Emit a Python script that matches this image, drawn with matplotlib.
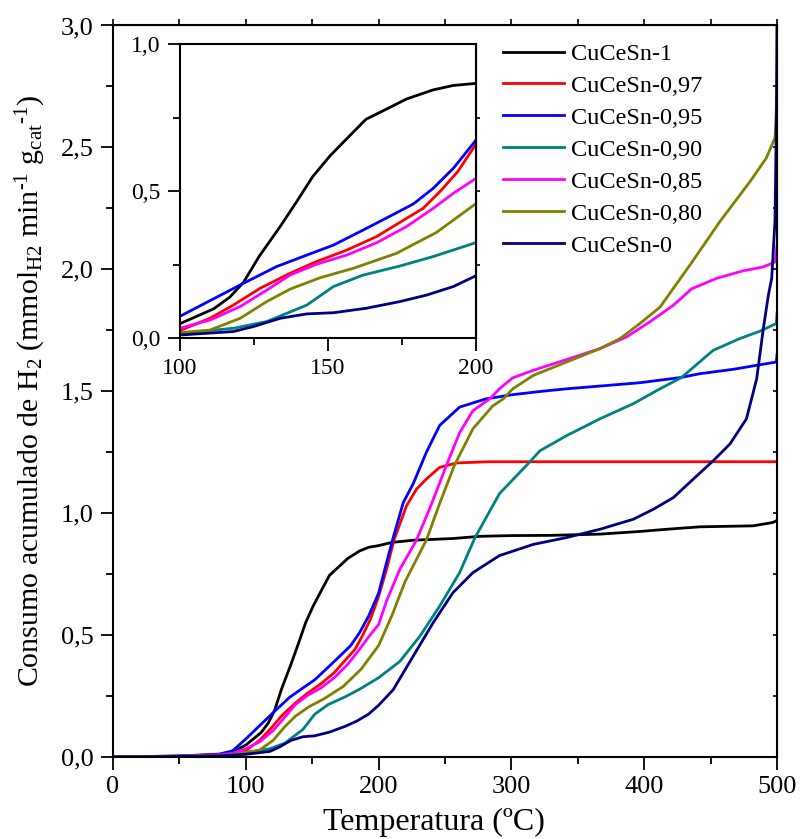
import matplotlib
matplotlib.use("Agg")
import matplotlib.pyplot as plt
from matplotlib.ticker import MultipleLocator

plt.rcParams['font.family'] = ['Liberation Serif', 'DejaVu Serif']
plt.rcParams['mathtext.fontset'] = 'custom'
plt.rcParams['mathtext.rm'] = 'Liberation Serif'
plt.rcParams['mathtext.it'] = 'Liberation Serif:italic'

# Cumulative H2 consumption (mmol H2 min^-1 g_cat^-1) versus temperature (ºC)
labels = ['CuCeSn-1', 'CuCeSn-0,97', 'CuCeSn-0,95', 'CuCeSn-0,90',
          'CuCeSn-0,85', 'CuCeSn-0,80', 'CuCeSn-0']
colors = ['#000000', '#FF0000', '#0000FF', '#008080', '#FF00FF', '#808000', '#000080']

T_1 = [0, 50, 80, 90, 100, 111.5, 117, 121.6, 127, 134, 139.6, 145, 150.8, 157.6, 163, 170,
       176.7, 185.7, 192.5, 200, 210, 226, 256, 276, 300, 330, 366.7, 396.8, 417, 442, 482, 497, 500]
v_1 = [0, 0.004, 0.01, 0.02, 0.049, 0.10, 0.14, 0.19, 0.28, 0.38, 0.465, 0.55, 0.62, 0.69, 0.745, 0.78,
       0.814, 0.845, 0.86, 0.867, 0.88, 0.889, 0.896, 0.905, 0.908, 0.909, 0.914, 0.925, 0.934, 0.944, 0.948, 0.962, 0.97]

T_097 = [0, 50, 80, 90, 100, 110.3, 118.2, 127.2, 137.3, 146.3, 156.5, 166.6, 176.7, 182.3, 188, 194,
         200, 206, 211.6, 221, 228.6, 236, 246, 258.8, 284, 500]
v_097 = [0, 0.003, 0.008, 0.014, 0.026, 0.068, 0.113, 0.17, 0.221, 0.261, 0.30, 0.346, 0.408, 0.442, 0.499, 0.567,
         0.658, 0.77, 0.89, 1.03, 1.099, 1.14, 1.188, 1.206, 1.211, 1.211]

T_095 = [0, 50, 80, 90, 100, 110.3, 121.6, 132.8, 143, 152, 162, 172, 179, 185.7, 192.5, 200, 204, 211,
         218.6, 226, 236, 246, 261, 281, 301, 321.5, 341.6, 396.8, 427, 442, 467, 499.5, 500]
v_095 = [0, 0.004, 0.012, 0.025, 0.074, 0.128, 0.187, 0.244, 0.283, 0.317, 0.368, 0.42, 0.457, 0.51, 0.578, 0.672, 0.756, 0.90,
         1.044, 1.12, 1.25, 1.36, 1.435, 1.469, 1.486, 1.499, 1.51, 1.535, 1.556, 1.572, 1.59, 1.62, 1.65]

T_090 = [0, 50, 80, 90, 100, 118.2, 129.5, 143, 152, 162, 174.5, 185.7, 200, 216, 231, 246, 261, 272.6,
         291, 314, 321.5, 341.6, 366.7, 391.8, 411.9, 428, 452, 472, 487, 499.5, 500]
v_090 = [0, 0.003, 0.007, 0.01, 0.017, 0.034, 0.057, 0.113, 0.176, 0.215, 0.246, 0.278, 0.325, 0.392, 0.495, 0.619, 0.756, 0.9,
         1.08, 1.211, 1.256, 1.318, 1.387, 1.449, 1.51, 1.556, 1.668, 1.716, 1.746, 1.778, 1.82]

T_085 = [0, 50, 80, 90, 100, 110.3, 120.5, 129.5, 137.3, 146.3, 156.5, 166.6, 176.7, 185.7, 192.5, 200, 206,
         216, 228.6, 240, 251, 261, 271, 284, 291, 301, 316.5, 341.6, 366.7, 386.8, 404, 422, 435.7, 454.5,
         474.6, 489.7, 498.5, 500]
v_085 = [0, 0.003, 0.009, 0.015, 0.034, 0.062, 0.108, 0.164, 0.215, 0.252, 0.283, 0.325, 0.38, 0.442, 0.493, 0.543, 0.64,
         0.77, 0.89, 1.04, 1.195, 1.33, 1.42, 1.47, 1.51, 1.555, 1.586, 1.63, 1.675, 1.723, 1.784, 1.853, 1.92, 1.963,
         1.994, 2.01, 2.03, 2.1]

T_080 = [0, 50, 80, 90, 100, 110.3, 120.5, 129.5, 137.3, 147.5, 158.7, 173.3, 186.8, 200, 210, 220, 236,
         246, 257, 271, 286, 294, 301, 316.5, 341.6, 366.7, 381.8, 396.8, 411.9, 434.5, 457, 479.7, 492, 498.5, 500]
v_080 = [0, 0.002, 0.006, 0.01, 0.019, 0.028, 0.068, 0.125, 0.167, 0.206, 0.238, 0.289, 0.36, 0.457, 0.58, 0.72, 0.89,
         1.04, 1.195, 1.346, 1.44, 1.469, 1.51, 1.565, 1.62, 1.675, 1.716, 1.778, 1.845, 2.018, 2.196, 2.36, 2.457, 2.54, 2.71]

T_0 = [0, 50, 80, 90, 100, 118.2, 125, 134, 143, 152, 163, 174.5, 183.5, 192.5, 200, 211, 226, 241, 256,
       271, 291, 316.5, 341.6, 366.7, 391.8, 406.9, 422, 437, 452, 464.6, 477, 484.7, 489.7, 493.5, 496,
       498.5, 499.5, 500]
v_0 = [0, 0.002, 0.005, 0.008, 0.011, 0.023, 0.04, 0.068, 0.083, 0.087, 0.102, 0.125, 0.147, 0.176, 0.212, 0.276, 0.413, 0.55, 0.674,
       0.756, 0.826, 0.872, 0.90, 0.934, 0.975, 1.016, 1.064, 1.14, 1.215, 1.284, 1.387, 1.551, 1.757, 1.894, 1.963,
       2.2, 2.6, 3.05]

series = [(T_1, v_1), (T_097, v_097), (T_095, v_095), (T_090, v_090),
          (T_085, v_085), (T_080, v_080), (T_0, v_0)]

x_ticks = [0, 100, 200, 300, 400, 500]
x_ticklabels = ['0', '100', '200', '300', '400', '500']
y_ticks = [0.0, 0.5, 1.0, 1.5, 2.0, 2.5, 3.0]
y_ticklabels = ['0,0', '0,5', '1,0', '1,5', '2,0', '2,5', '3,0']
inset_x_ticks = [100, 150, 200]
inset_x_ticklabels = ['100', '150', '200']
inset_y_ticks = [0.0, 0.5, 1.0]
inset_y_ticklabels = ['0,0', '0,5', '1,0']

W, H = 800, 839
fig = plt.figure(figsize=(W / 100, H / 100), dpi=100)

def frac(x0, y0, x1, y1):
    return [x0 / W, 1 - y1 / H, (x1 - x0) / W, (y1 - y0) / H]

ax = fig.add_axes(frac(113, 25.5, 777, 757))
for (T, v), c, lab in zip(series, colors, labels):
    ax.plot(T, v, color=c, lw=2.0, label=lab, solid_joinstyle='round')

ax.set_xlim(0, 500)
ax.set_ylim(0, 3.0)
ax.set_xticks(x_ticks)
ax.set_xticklabels(x_ticklabels)
ax.set_yticks(y_ticks)
ax.set_yticklabels(y_ticklabels)
ax.xaxis.set_minor_locator(MultipleLocator(50))
ax.yaxis.set_minor_locator(MultipleLocator(0.25))
ax.tick_params(which='major', direction='out', length=9, width=1.3, labelsize=19, pad=5)
ax.tick_params(which='minor', direction='out', length=5, width=1.3)
for s in ax.spines.values():
    s.set_linewidth(1.5)

top = ax.secondary_xaxis('top')
top.set_xticks(list(range(0, 501, 50)))
top.tick_params(direction='out', length=4, width=1.2, labeltop=False)
top.set_xticklabels([])
right = ax.secondary_yaxis('right')
right.set_yticks([i * 0.25 for i in range(13)])
right.tick_params(direction='in', length=3, width=1.2, labelright=False)
right.set_yticklabels([])

ax.set_xlabel('Temperatura (ºC)', fontsize=23)
ax.xaxis.set_label_coords(0.483, -0.07, transform=ax.transAxes)
ax.xaxis.label.set_va('top')
ax.set_ylabel('Consumo acumulado de H$_{\\mathregular{2}}$ (mmol$_{\\mathregular{H2}}$ min$^{\\mathregular{\u2010 1}}$ '
              'g$_{\\mathregular{cat}}$$^{\\mathregular{\u2010 1}}$)', fontsize=21.5, labelpad=9)

leg = ax.legend(loc='upper left', bbox_to_anchor=(503 / W, 1 - 43 / H), bbox_transform=fig.transFigure,
                frameon=False, fontsize=17.5, handlelength=2.5, handletextpad=0.3,
                labelspacing=0.41, borderpad=0, borderaxespad=0)

# Inset: 100-200 ºC detail
ins = fig.add_axes(frac(179.5, 44.3, 475.5, 338.3))
ins.set_facecolor('white')
for (T, v), c in zip(series, colors):
    ins.plot(T, v, color=c, lw=2.0, solid_joinstyle='round')
ins.set_xlim(100, 200)
ins.set_ylim(0, 1.0)
ins.set_xticks(inset_x_ticks)
ins.set_xticklabels(inset_x_ticklabels)
ins.set_yticks(inset_y_ticks)
ins.set_yticklabels(inset_y_ticklabels)
ins.xaxis.set_minor_locator(MultipleLocator(25))
ins.yaxis.set_minor_locator(MultipleLocator(0.25))
ins.tick_params(which='major', direction='out', length=9, width=1.3, labelsize=17, pad=5)
ins.tick_params(which='minor', direction='out', length=5, width=1.3)
for s in ins.spines.values():
    s.set_linewidth(1.5)
iright = ins.secondary_yaxis('right')
iright.set_yticks([0.25, 0.5, 0.75])
iright.tick_params(direction='out', length=3, width=1.2, labelright=False)
iright.set_yticklabels([])

fig.savefig('out.png', dpi=100)
